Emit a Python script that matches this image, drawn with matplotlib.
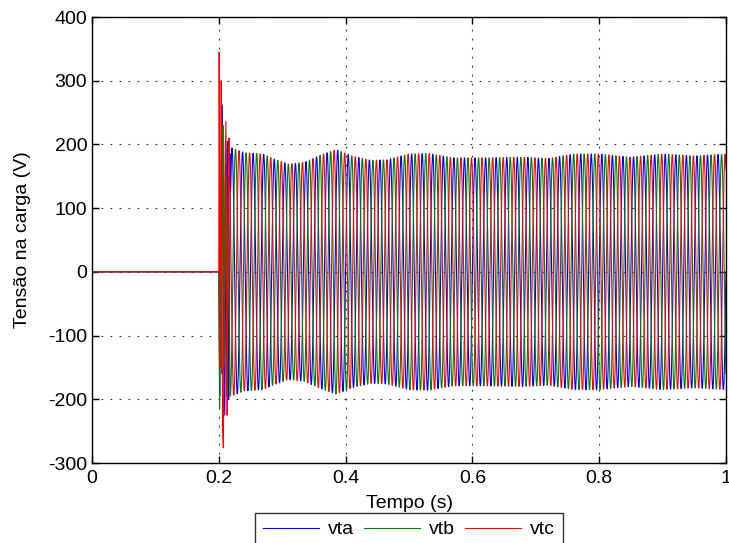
import numpy as np
import matplotlib
matplotlib.use("Agg")
from matplotlib import pyplot as plt

plt.rcParams['font.family'] = ['Liberation Sans', 'DejaVu Sans']
plt.rcParams['axes.unicode_minus'] = False

# nominal grid frequency and phase shifts of the three load voltages
freq = 60.0
phase_deg = {'vta': 0.0, 'vtb': -120.0, 'vtc': 120.0}
colors = {'vta': (0, 0, 1), 'vtb': (0, 0.5, 0), 'vtc': (1, 0, 0)}

# peak amplitude (V)
env_t = [0.22, 0.24, 0.27, 0.285, 0.31, 0.335, 0.36, 0.385, 0.41, 0.44, 0.465,
         0.50, 0.53, 0.57, 0.62, 0.68, 0.72, 0.76, 0.80, 0.85, 0.90, 0.95, 1.0]
env_v = [195, 187, 185, 178, 169, 172, 183, 192, 182, 175, 176,
         185, 186, 179, 179, 180, 178, 185, 185, 180, 185, 182, 185]

# switching transient right after t = 0.2 s (time, voltage)
trans_t = {
    'vta': [0.2, 0.2015, 0.2035, 0.2055, 0.2075, 0.2095, 0.2115, 0.2135, 0.2155, 0.2185],
    'vtb': [0.2, 0.2012, 0.2028, 0.2045, 0.2065, 0.2085, 0.2105, 0.2125, 0.2150, 0.2175],
    'vtc': [0.2, 0.2006, 0.2022, 0.2038, 0.2058, 0.2072, 0.2092, 0.2112, 0.2132, 0.2160],
}
trans_v = {
    'vta': [0, -195, 150, 262, -120, -225, 140, 205, -200, 185],
    'vtb': [0, -215, 120, -160, 230, -140, 205, -195, 150, -180],
    'vtc': [0, 345, -150, 300, -240, -276, 120, 236, -225, 210],
}

t = np.arange(0, 1.00001, 5e-5)

fig = plt.figure(figsize=(7.29, 5.43), dpi=100)
ax = fig.add_axes([92 / 729, 80 / 543, 634 / 729, 446 / 543])

for name in ['vta', 'vtb', 'vtc']:
    amp = np.interp(t, env_t, env_v)
    v = amp * np.sin(2 * np.pi * freq * t + np.deg2rad(phase_deg[name]))
    tt = trans_t[name]
    v[t < tt[0]] = 0.0
    mask = (t >= tt[0]) & (t <= tt[-1])
    v[mask] = np.interp(t[mask], tt, trans_v[name])
    ax.plot(t, v, color=colors[name], lw=0.8, label=name)

ax.set_xlim(0, 1)
ax.set_ylim(-300, 400)
ax.set_xticks([0, 0.2, 0.4, 0.6, 0.8, 1])
ax.set_xticklabels(['0', '0.2', '0.4', '0.6', '0.8', '1'])
ax.set_yticks(np.arange(-300, 401, 100))
ax.grid(True, color='#333333', linestyle=(0, (1.6, 6.5)), linewidth=0.8)
ax.tick_params(direction='in', top=True, right=True, labelsize=14, length=5, width=1)
ax.tick_params(axis='x', pad=5)
for sp in ax.spines.values():
    sp.set_linewidth(1.0)
ax.set_xlabel('Tempo (s)', fontsize=14, labelpad=6)
ax.set_ylabel('Tensão na carga (V)', fontsize=14, labelpad=12)

leg = ax.legend(loc='upper center', bbox_to_anchor=(0.5, -0.112), ncol=3,
                fontsize=14, frameon=True, fancybox=False, edgecolor='black',
                handlelength=2.9, columnspacing=0.5, borderpad=0.4, handletextpad=0.45,
                borderaxespad=0)
leg.get_frame().set_linewidth(1.0)

fig.savefig('out.png', dpi=100)
